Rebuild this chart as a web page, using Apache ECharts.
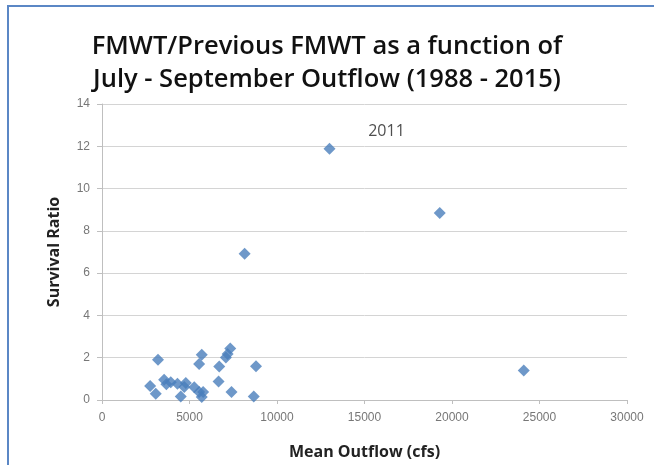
<!DOCTYPE html>
<html>
<head>
<meta charset="utf-8">
<script src="https://cdn.jsdelivr.net/npm/echarts@6/dist/echarts.min.js"></script>
<style>
  html, body { margin: 0; padding: 0; background: #fff; overflow: hidden; }
  #frame { position: absolute; left: 7px; top: 5px; width: 900px; height: 900px;
           border-left: 2px solid #5b87c5; border-top: 2px solid #5b87c5; }
  #main { position: absolute; left: 0; top: 0; width: 654px; height: 465px; }
</style>
</head>
<body>
<div id="frame"></div>
<div id="main"></div>
<script>
// mean July-September outflow (cfs) and FMWT survival ratio
var outflow = [13000, 19300, 8150, 24100, 3200, 5700, 5550, 7330, 7180, 7080, 6700, 8800, 6660,
  7400, 8670, 2750, 3070, 3550, 3680, 3930, 4310, 4790, 4500, 4700, 5270, 5550, 5780, 5700];
var ratio = [11.88, 8.85, 6.92, 1.4, 1.9, 2.14, 1.7, 2.43, 2.17, 2.01, 1.58, 1.6, 0.88,
  0.38, 0.17, 0.66, 0.3, 0.96, 0.74, 0.84, 0.77, 0.8, 0.17, 0.62, 0.6, 0.38, 0.38, 0.14];
var labelIndex = 0;
var labelText = '2011';
var xTicks = [0, 30000, 5000];
var yTicks = [0, 14, 2];

var points = outflow.map(function (x, i) {
  var item = { value: [x, ratio[i]] };
  if (i === labelIndex) {
    item.label = {
      show: true, formatter: labelText, position: 'top', offset: [57, 2],
      fontSize: 16, color: '#222', fontFamily: 'Open Sans'
    };
  }
  return item;
});

var myChart = echarts.init(document.getElementById('main'));
var option = {
  backgroundColor: 'transparent',
  animation: false,
  title: {
    text: 'FMWT/Previous FMWT as a function of\nJuly - September Outflow (1988 - 2015)',
    left: 'center',
    top: 25,
    textStyle: {
      fontFamily: 'Open Sans', fontWeight: 600, fontSize: 25.5,
      color: '#111', lineHeight: 33
    }
  },
  grid: { left: 102, right: 27, top: 104, bottom: 62 },
  xAxis: {
    type: 'value',
    min: xTicks[0], max: xTicks[1], interval: xTicks[2],
    name: 'Mean Outflow (cfs)',
    nameLocation: 'middle',
    nameGap: 44,
    nameTextStyle: { fontFamily: 'Open Sans', fontWeight: 'bold', fontSize: 16, color: '#222' },
    axisLine: { show: true, lineStyle: { color: '#bfbfbf' } },
    axisTick: { show: true, length: 4, lineStyle: { color: '#bfbfbf' } },
    axisLabel: {
      color: '#777', fontSize: 12, fontFamily: 'Liberation Sans', margin: 12,
      formatter: function (v) { return String(v); }
    },
    splitLine: { show: false }
  },
  yAxis: {
    type: 'value',
    min: yTicks[0], max: yTicks[1], interval: yTicks[2],
    name: 'Survival Ratio',
    nameLocation: 'middle',
    nameGap: 40,
    nameTextStyle: { fontFamily: 'Open Sans', fontWeight: 'bold', fontSize: 16, color: '#222' },
    axisLine: { show: true, lineStyle: { color: '#bfbfbf' } },
    axisTick: { show: true, length: 5, lineStyle: { color: '#bfbfbf' } },
    axisLabel: { color: '#777', fontSize: 12, fontFamily: 'Liberation Sans', margin: 12 },
    splitLine: { show: true, lineStyle: { color: '#d4d4d4' } }
  },
  series: [{
    type: 'scatter',
    symbol: 'diamond',
    symbolSize: 12,
    itemStyle: { color: '#4a7ebb' },
    data: points
  }]
};
myChart.setOption(option);
</script>
</body>
</html>
